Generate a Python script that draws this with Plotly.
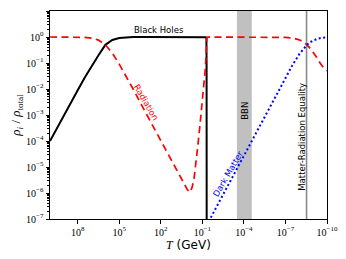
import plotly.graph_objects as go

# ---------------- data ----------------
# Black holes fraction
bh_T = [1e10, 3.16e9, 1e9, 3.16e8, 1e8, 3.16e7, 1e7, 3.16e6, 1e6, 3.16e5, 1e5,
        3.16e4, 1e4, 1e3, 1e2, 1e1, 1e0, 1e-1, 7e-2, 5.6e-2, 5.1e-2, 4.95e-2, 4.85e-2]
bh_frac = [1.0e-4, 3.16e-4, 1.0e-3, 3.0e-3, 8.9e-3, 2.7e-2, 7.6e-2, 0.20, 0.50, 0.77, 0.91,
           0.97, 0.99, 1.0, 1.0, 1.0, 1.0, 1.0, 1.0, 0.98, 0.9, 0.1, 1e-8]

# Radiation fraction
rad_T = [1e10, 1e9, 1e8, 3.16e7, 1e7, 3.16e6, 1e6, 3.16e5, 1e5, 3.16e4, 1e4, 1e3, 1e2, 1e1,
         4.0, 2.0, 1.26, 0.8, 0.56, 0.4, 0.32, 0.224, 0.148, 0.1, 0.0794, 0.063, 0.055,
         0.050, 0.047, 0.04, 1e-3, 1e-6, 1e-7, 3.16e-8, 1e-8, 5.6e-9, 2.8e-9, 1.6e-9,
         1e-9, 5.6e-10, 3.16e-10, 1.78e-10, 1e-10]
rad_frac = [1.0, 0.999, 0.99, 0.97, 0.91, 0.76, 0.50, 0.24, 0.091, 0.031, 0.01, 1e-3, 1e-4, 1e-5,
            4.2e-6, 2.1e-6, 1.4e-6, 1.07e-6, 1.6e-6, 3.5e-6, 8.3e-6, 5.0e-5, 4.1e-4, 3.2e-3, 1.1e-2,
            5.0e-2, 0.15, 0.5, 0.93, 0.99, 1.0, 1.0, 0.97, 0.918, 0.78, 0.667, 0.5, 0.36,
            0.26, 0.167, 0.10, 0.065, 0.05]

# Dark matter fraction
dm_T = [5e-2, 1e-2, 1e-3, 1e-4, 1e-5, 1e-6, 3.16e-7, 1e-7, 3.16e-8, 1e-8, 5.6e-9, 2.8e-9,
        1.6e-9, 1e-9, 5.6e-10, 3.16e-10, 1e-10]
dm_frac = [5.6e-8, 2.8e-7, 2.8e-6, 2.8e-5, 2.8e-4, 2.8e-3, 8.9e-3, 2.7e-2, 8.2e-2, 0.22, 0.33, 0.5,
           0.64, 0.74, 0.83, 0.90, 0.97]

bbn_T = [3.2e-4, 2.7e-5]          # BBN band edges (GeV)
eq_T = 3.0e-9                     # matter-radiation equality (GeV)

x_ticks = [1e8, 1e5, 1e2, 1e-1, 1e-4, 1e-7, 1e-10]
x_ticktext = ["10<sup>8</sup>", "10<sup>5</sup>", "10<sup>2</sup>", "10<sup>−1</sup>",
              "10<sup>−4</sup>", "10<sup>−7</sup>", "10<sup>−10</sup>"]
y_ticks = [1e-7, 1e-6, 1e-5, 1e-4, 1e-3, 1e-2, 1e-1, 1e0, 1e1]
y_ticktext = ["10<sup>−7</sup>", "10<sup>−6</sup>", "10<sup>−5</sup>", "10<sup>−4</sup>",
              "10<sup>−3</sup>", "10<sup>−2</sup>", "10<sup>−1</sup>", "10<sup>0</sup>", "10<sup>1</sup>"]
y_minor = [m * d for d in y_ticks[:-1] for m in range(2, 10)]

Y_LO, Y_HI = 1e-7, 1e1

fig = go.Figure()

# BBN band
fig.add_trace(go.Scatter(x=[bbn_T[0], bbn_T[1], bbn_T[1], bbn_T[0], bbn_T[0]],
                         y=[Y_LO, Y_LO, Y_HI, Y_HI, Y_LO], fill="toself",
                         fillcolor="#c0c0c0", line=dict(width=0), mode="lines",
                         hoverinfo="skip", showlegend=False))
# equality line
fig.add_trace(go.Scatter(x=[eq_T, eq_T], y=[Y_LO, Y_HI], mode="lines",
                         line=dict(color="#8a8a8a", width=1.6), showlegend=False))

fig.add_trace(go.Scatter(x=bh_T, y=bh_frac, mode="lines",
                         line=dict(color="black", width=2), showlegend=False))
fig.add_trace(go.Scatter(x=rad_T, y=rad_frac, mode="lines",
                         line=dict(color="#ff0000", width=1.7, dash="7px,4.5px"), showlegend=False))
fig.add_trace(go.Scatter(x=dm_T, y=dm_frac, mode="lines",
                         line=dict(color="#0000ff", width=2, dash="2px,2.5px"), showlegend=False))

lab_font = dict(family="DejaVu Sans", size=8.5)
anns = [
    dict(text="Black Holes", x=2.15, y=0.26, textangle=0, font=dict(color="black", **lab_font)),
    dict(text="Radiation", x=3.08, y=-2.51, textangle=60, font=dict(color="#ff0000", **lab_font)),
    dict(text="Dark Matter", x=-2.82, y=-5.25, textangle=-60, font=dict(color="#0000ff", **lab_font)),
    dict(text="BBN", x=-4.02, y=-2.83, textangle=-90, font=dict(color="black", **lab_font)),
    dict(text="Matter-Radiation Equality", x=-8.17, y=-3.85, textangle=-90,
         font=dict(color="black", **lab_font)),
]
for a in anns:
    fig.add_annotation(xref="x", yref="y", showarrow=False, xanchor="center", yanchor="middle", **a)

# the page places the figure 8px in from the window's corner; margins compensate
tick_font = dict(family="Liberation Serif", size=10, color="black")
fig.update_layout(
    width=346, height=259,
    margin=dict(l=42, r=27, t=3, b=48, autoexpand=False),
    plot_bgcolor="white", paper_bgcolor="white",
    xaxis=dict(type="log", range=[10, -10], tickmode="array", tickvals=x_ticks, ticktext=x_ticktext,
               ticks="outside", ticklen=3.5, tickwidth=1, tickcolor="black", showgrid=False,
               zeroline=False, showline=True, linecolor="black", linewidth=1, mirror=True,
               tickfont=tick_font, automargin=False,
               title=dict(text="<span style=\"font-family:Liberation Serif\"><i>T</i></span> (GeV)",
                          font=dict(family="DejaVu Sans", size=12, color="black"), standoff=4)),
    yaxis=dict(type="log", range=[-7, 1], tickmode="array", tickvals=y_ticks, ticktext=y_ticktext,
               ticks="outside", ticklen=3.5, tickwidth=1, tickcolor="black", showgrid=False,
               zeroline=False, showline=True, linecolor="black", linewidth=1, mirror=True,
               tickfont=tick_font, automargin=False,
               minor=dict(tickvals=y_minor, ticks="outside", ticklen=2, tickwidth=0.8,
                          tickcolor="black", showgrid=False),
               title=dict(text="<i>ρ<sub>i</sub></i> / <i>ρ</i><sub>total</sub>",
                          font=dict(family="Liberation Serif", size=13, color="black"), standoff=6)),
)

fig.write_html("out.html")
